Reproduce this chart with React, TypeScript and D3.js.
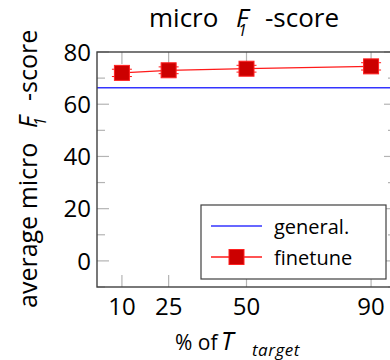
import React, { useEffect, useRef } from 'react';
import * as d3 from 'd3';

// data
const xTicks = [10, 25, 50, 90];
const yTicks = [0, 20, 40, 60, 80];
const yMinor = [-10, 10, 30, 50, 70];
const fracs = [10, 25, 50, 90];
const finetune = [72.0, 73.0, 73.6, 74.5];
const finetuneErr = [1.4, 1.3, 1.3, 1.4];
const general = 66.3;

const W = 390, H = 360;
const FONT = '"Open Sans", sans-serif';

const App = () => {
	const ref = useRef<SVGSVGElement>(null);

	useEffect(() => {
		const svg = d3.select(ref.current);
		svg.selectAll('*').remove();

		const x = d3.scaleLinear().domain([2, 98]).range([97, 396]);
		const y = d3.scaleLinear().domain([-10, 80]).range([287, 52]);
		const [x0, x1] = x.range();
		const [yb, yt] = y.range();

		const tickCol = '#b4b4b4';
		const red = '#ff1a1a';
		const g = svg.append('g');

		// ticks (inside, on all four sides)
		xTicks.forEach(t => {
			g.append('line').attr('x1', x(t)).attr('x2', x(t)).attr('y1', yb).attr('y2', yb - 12)
				.attr('stroke', tickCol).attr('stroke-width', 1.2);
			g.append('line').attr('x1', x(t)).attr('x2', x(t)).attr('y1', yt).attr('y2', yt + 12)
				.attr('stroke', tickCol).attr('stroke-width', 1.2);
		});
		yTicks.concat(yMinor).forEach(t => {
			const len = yTicks.includes(t) ? 12 : 8;
			g.append('line').attr('x1', x0).attr('x2', x0 + len).attr('y1', y(t)).attr('y2', y(t))
				.attr('stroke', tickCol).attr('stroke-width', 1.2);
			g.append('line').attr('x1', x1).attr('x2', x1 - len).attr('y1', y(t)).attr('y2', y(t))
				.attr('stroke', tickCol).attr('stroke-width', 1.2);
		});

		// general. baseline
		g.append('line').attr('x1', x0).attr('x2', x1).attr('y1', y(general)).attr('y2', y(general))
			.attr('stroke', '#3434ff').attr('stroke-width', 1.6);

		// finetune line
		const line = d3.line<number>().x((d, i) => x(fracs[i])).y(d => y(d));
		g.append('path').attr('d', line(finetune)).attr('fill', 'none')
			.attr('stroke', red).attr('stroke-width', 1.3);

		// error bars
		finetune.forEach((v, i) => {
			const cx = x(fracs[i]);
			const lo = y(v - finetuneErr[i]), hi = y(v + finetuneErr[i]);
			g.append('line').attr('x1', cx).attr('x2', cx).attr('y1', lo).attr('y2', hi)
				.attr('stroke', red).attr('stroke-width', 1);
			[lo, hi].forEach(yy => {
				g.append('line').attr('x1', cx - 10).attr('x2', cx + 10).attr('y1', yy).attr('y2', yy)
					.attr('stroke', red).attr('stroke-width', 1);
			});
		});

		// markers
		g.selectAll('.mk').data(finetune).enter().append('rect')
			.attr('x', (d, i) => x(fracs[i]) - 7.5).attr('y', d => y(d) - 7.5)
			.attr('width', 15).attr('height', 15)
			.attr('fill', '#cc0000').attr('stroke', '#ff2020').attr('stroke-width', 1);

		// axis box
		g.append('rect').attr('x', x0).attr('y', yt).attr('width', x1 - x0).attr('height', yb - yt)
			.attr('fill', 'none').attr('stroke', '#404040').attr('stroke-width', 1.4);

		// tick labels
		g.selectAll('.yl').data(yTicks).enter().append('text')
			.attr('x', x0 - 6).attr('y', d => y(d)).attr('dy', '0.36em')
			.attr('text-anchor', 'end').attr('font-family', FONT).attr('font-size', 24)
			.text(d => d);
		g.selectAll('.xl').data(xTicks).enter().append('text')
			.attr('x', d => x(d)).attr('y', 315)
			.attr('text-anchor', 'middle').attr('font-family', FONT).attr('font-size', 24)
			.text(d => d);

		// title
		const title = svg.append('text').attr('y', 27)
			.attr('font-family', FONT).attr('font-size', 26);
		title.append('tspan').attr('x', 149).text('micro');
		title.append('tspan').attr('x', 236).attr('font-style', 'italic').text('F');
		title.append('tspan').attr('x', 238).attr('dy', 9).attr('font-style', 'italic').attr('font-size', 16).text('1');
		title.append('tspan').attr('x', 265).attr('dy', -9).text('-score');

		// y label (rotated, read bottom to top)
		const yl = svg.append('text').attr('transform', 'translate(37,308) rotate(-90)')
			.attr('font-family', FONT).attr('font-size', 25);
		yl.append('tspan').attr('x', 0).text('average micro');
		yl.append('tspan').attr('x', 180).attr('font-style', 'italic').text('F');
		yl.append('tspan').attr('x', 182).attr('dy', 9).attr('font-style', 'italic').attr('font-size', 16).text('1');
		yl.append('tspan').attr('x', 207).attr('dy', -9).text('-score');

		// x label
		const xl = svg.append('text').attr('y', 350)
			.attr('font-family', FONT).attr('font-size', 21);
		xl.append('tspan').attr('x', 175).text('% of');
		xl.append('tspan').attr('x', 221).attr('font-style', 'italic').attr('font-size', 25).text('T');
		xl.append('tspan').attr('x', 252).attr('dy', 6).attr('font-style', 'italic').attr('font-size', 17)
			.attr('letter-spacing', 0.5).text('target');

		// legend
		const lg = svg.append('g');
		lg.append('rect').attr('x', 201).attr('y', 205).attr('width', 185).attr('height', 74)
			.attr('fill', 'white').attr('stroke', '#404040').attr('stroke-width', 1.2);
		lg.append('line').attr('x1', 211).attr('x2', 262).attr('y1', 226).attr('y2', 226)
			.attr('stroke', '#3434ff').attr('stroke-width', 1.6);
		lg.append('line').attr('x1', 211).attr('x2', 262).attr('y1', 257).attr('y2', 257)
			.attr('stroke', red).attr('stroke-width', 1.3);
		lg.append('rect').attr('x', 236.5 - 7.5).attr('y', 257 - 7.5).attr('width', 15).attr('height', 15)
			.attr('fill', '#cc0000').attr('stroke', '#ff2020').attr('stroke-width', 1);
		lg.append('text').attr('x', 274).attr('y', 234)
			.attr('font-family', FONT).attr('font-size', 20).text('general.');
		lg.append('text').attr('x', 274).attr('y', 265)
			.attr('font-family', FONT).attr('font-size', 20).text('finetune');
	}, []);

	return (
		<svg ref={ref} width={W} height={H} style={{ position: 'absolute', left: 0, top: 0, background: 'white' }} />
	);
};

export default App;
